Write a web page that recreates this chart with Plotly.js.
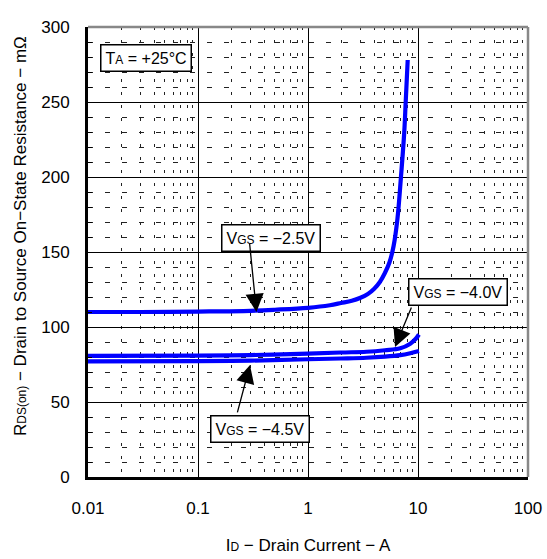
<!DOCTYPE html>
<html>
<head>
<meta charset="utf-8">
<script src="https://cdn.plot.ly/plotly-3.0.1.min.js"></script>
<style>html,body{margin:0;padding:0;background:#fff;}#chart{width:547px;height:559px;}</style>
</head>
<body>
<div id="chart"></div>
<script>
// Drain current (A) and on-resistance (mΩ) per gate voltage
const id25 = [0.01, 0.03, 0.1, 0.3, 0.5, 1, 1.58, 2, 2.5, 3, 3.5, 4, 4.5, 5, 5.5, 6, 6.5, 7, 7.5, 7.73, 8.06];
const r25  = [110, 110, 110.3, 110.8, 111.5, 112.8, 114.5, 116, 117.5, 119.5, 122, 125.5, 130, 136, 143, 154, 172, 200, 230, 250, 278];
const id40 = [0.01, 0.1, 0.3, 1, 2, 3.4, 5, 6.9, 8.5, 9.5, 10.2];
const r40  = [80.7, 80.9, 81.3, 82.2, 83, 83.5, 84.5, 85.8, 88.9, 92, 95];
const id45 = [0.01, 0.1, 0.3, 1, 2, 3.4, 5, 6.9, 8.5, 10.2];
const r45  = [77.1, 77.2, 77.6, 78.5, 79, 79.5, 80.2, 81.2, 82.5, 84];
const xTicks = [0.01, 0.1, 1, 10, 100];
const xTickText = ['0.01', '0.1', '1', '10', '100'];
const yTicks = [0, 50, 100, 150, 200, 250, 300];
// arrow tips (data) for labels
const tip25 = [0.34, 110];
const tip40 = [6.18, 86.7];
const tip45 = [0.297, 74.7];

const lineStyle = {color: '#0000FF', width: 4.2, shape: 'spline', smoothing: 1};
const traces = [
  {x: id25, y: r25, mode: 'lines', line: lineStyle, name: 'VGS = -2.5V'},
  {x: id40, y: r40, mode: 'lines', line: lineStyle, name: 'VGS = -4.0V'},
  {x: id45, y: r45, mode: 'lines', line: lineStyle, name: 'VGS = -4.5V'}
];

const FONT = 'Liberation Sans, Arial, sans-serif';
const boxFont = {family: FONT, size: 16, color: '#000'};
function box(text, xp, yp) {
  return {xref: 'paper', yref: 'paper', x: xp, y: yp, text: text, showarrow: false,
    font: boxFont, bgcolor: '#fff', bordercolor: '#000', borderwidth: 1.5, borderpad: 4,
    xanchor: 'center', yanchor: 'middle'};
}
function arrow(tip, ax, ay) {
  return {x: Math.log10(tip[0]), y: tip[1], xref: 'x', yref: 'y', text: '', showarrow: true,
    ax: ax, ay: ay, arrowhead: 2, arrowsize: 2.8, arrowwidth: 1.3, arrowcolor: '#000'};
}
const sm = s => '<span style="font-size:12px">' + s + '</span>';

const layout = {
  width: 547, height: 559,
  margin: {l: 88, r: 19, t: 27, b: 82},
  paper_bgcolor: '#fff', plot_bgcolor: '#fff',
  showlegend: false,
  font: {family: FONT, size: 17, color: '#000'},
  xaxis: {
    type: 'log', range: [-2, 2], tickvals: xTicks, ticktext: xTickText,
    showgrid: true, gridcolor: '#000', gridwidth: 1,
    showline: true, linecolor: '#000', linewidth: 3,
    ticks: '', ticklabelstandoff: 14, tickfont: {size: 17},
    zeroline: false,
    minor: {dtick: 'D1', showgrid: true, gridcolor: '#222', gridwidth: 1, griddash: '3px,10px'},
    title: {text: 'I' + sm('D') + ' − Drain Current − A', font: {size: 17}, standoff: 22}
  },
  yaxis: {
    range: [0, 300], tickvals: yTicks,
    showgrid: true, gridcolor: '#000', gridwidth: 1,
    showline: true, linecolor: '#000', linewidth: 3,
    ticks: '', ticklabelstandoff: 12, tickfont: {size: 17},
    zeroline: false,
    minor: {dtick: 10, showgrid: true, gridcolor: '#222', gridwidth: 1, griddash: '5px,12px',
      ticks: 'inside', ticklen: 4, tickcolor: '#000'}
  },
  shapes: [
    {type: 'line', xref: 'paper', yref: 'paper', x0: 0, x1: 1, y0: 1, y1: 1, line: {color: '#888', width: 2.5}, layer: 'above'},
    {type: 'line', xref: 'paper', yref: 'paper', x0: 1, x1: 1, y0: 0, y1: 1, line: {color: '#888', width: 2.5}, layer: 'above'}
  ],
  annotations: [
    {xref: 'paper', yref: 'paper', x: -0.155, y: 0.535, textangle: -90, showarrow: false,
      text: 'R' + sm('DS(on)') + ' − Drain to Source On−State Resistance − mΩ',
      font: {family: FONT, size: 17, color: '#000'}, xanchor: 'center', yanchor: 'middle'},
    box('T' + sm('A') + ' = +25°C', 0.132, 0.932),
    box('V' + sm('GS') + ' = −2.5V', 0.415, 0.531),
    box('V' + sm('GS') + ' = −4.0V', 0.841, 0.411),
    box('V' + sm('GS') + ' = −4.5V', 0.392, 0.106),
    arrow(tip25, -7, -70),
    arrow(tip40, 17, -41),
    arrow(tip45, -13, 49)
  ]
};

Plotly.newPlot('chart', traces, layout, {staticPlot: true, displayModeBar: false});
</script>
</body>
</html>
